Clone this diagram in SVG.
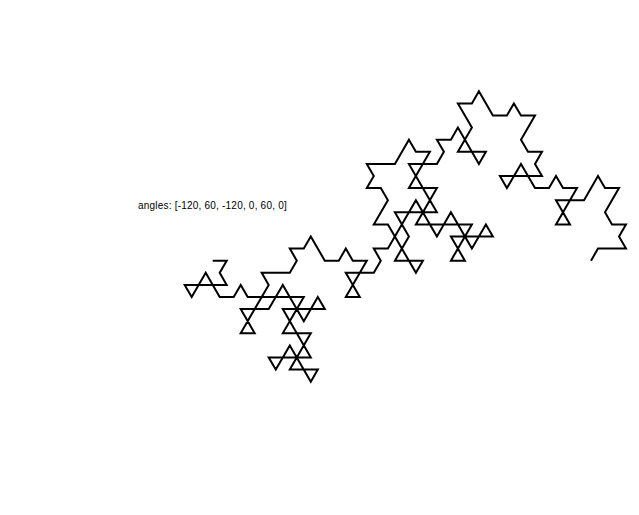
<svg xmlns="http://www.w3.org/2000/svg" width="639" height="515" viewBox="0 0 639 515">
<style>
.curve{fill:none;stroke:#000;stroke-width:2;stroke-linejoin:miter;stroke-linecap:butt}
.label{font-family:"Liberation Sans",Arial,sans-serif;font-size:10px;letter-spacing:0.21px;fill:#000}
</style>
<rect width="639" height="515" fill="#fff"/>
<text class="label" x="138" y="209">angles: [-120, 60, -120, 0, 60, 0]</text>
<polyline class="curve" points="212.7,260.7 226.7,260.7 219.7,272.8 226.7,284.9 184.7,284.9 191.7,297 205.7,272.8 219.7,297 233.7,297 240.7,284.9 247.7,297 303.8,297 282.8,333.3 310.8,333.3 289.8,369.6 317.8,369.6 310.8,381.7 289.8,345.4 275.8,369.6 268.7,357.5 310.8,357.5 282.8,309.1 324.8,309.1 317.8,297 303.8,321.2 282.8,284.9 268.7,309.1 240.7,309.1 254.7,333.3 240.7,333.3 268.7,284.9 261.7,272.8 289.8,272.8 296.8,260.7 289.8,248.6 303.8,248.6 310.8,236.5 324.8,260.7 338.8,260.7 345.8,248.6 352.8,260.7 366.8,260.7 345.8,297 359.8,297 345.8,272.8 373.8,272.8 380.8,260.7 373.8,248.6 387.9,248.6 415.9,200.2 436.9,236.5 450.9,212.3 471.9,248.6 485.9,224.4 492.9,236.5 450.9,236.5 464.9,260.7 450.9,260.7 471.9,224.4 415.9,224.4 436.9,188.1 408.9,188.1 429.9,151.8 415.9,151.8 408.9,139.7 394.9,163.9 366.8,163.9 373.8,176 366.8,188.1 380.8,188.1 387.9,200.2 373.8,224.4 387.9,224.4 415.9,272.8 422.9,260.7 394.9,260.7 408.9,236.5 394.9,212.3 436.9,212.3 408.9,163.9 436.9,163.9 443.9,151.8 436.9,139.7 450.9,139.7 457.9,127.6 478.9,163.9 485.9,151.8 457.9,151.8 471.9,127.6 457.9,103.4 471.9,103.4 478.9,91.3 492.9,115.5 506.9,115.5 513.9,103.4 521,115.5 535,115.5 521,139.7 528,151.8 542,151.8 535,163.9 542,176 499.9,176 506.9,188.1 521,163.9 535,188.1 549,188.1 556,176 563,188.1 577,188.1 556,224.4 570,224.4 556,200.2 584,200.2 598,176 605,188.1 619,188.1 605,212.3 612,224.4 626,224.4 619,236.5 626,248.6 598,248.6 591,260.7"/>
</svg>
